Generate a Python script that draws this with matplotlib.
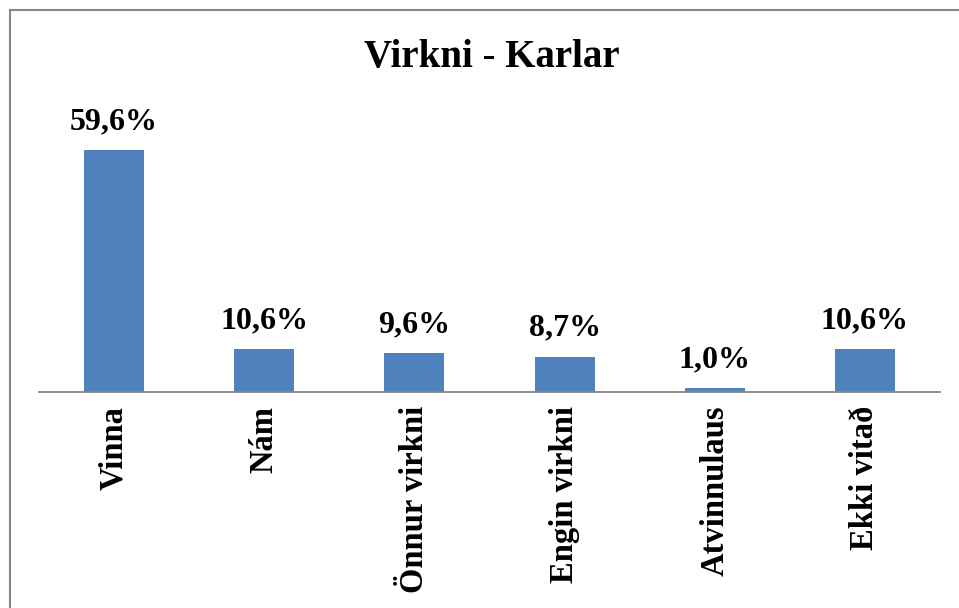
import matplotlib
matplotlib.use("Agg")
import matplotlib.pyplot as plt
from matplotlib.lines import Line2D

categories = ["Vinna", "Nám", "Önnur virkni", "Engin virkni", "Atvinnulaus", "Ekki vitað"]
values = [59.6, 10.6, 9.6, 8.7, 1.0, 10.6]
value_labels = ["59,6%", "10,6%", "9,6%", "8,7%", "1,0%", "10,6%"]
title = "Virkni - Karlar"

W, H = 959, 608
fig = plt.figure(figsize=(W / 100, H / 100), dpi=100)
fig.patch.set_facecolor("white")

ymax = 65
px_per = 4.06
ax_left, ax_right, ax_bottom = 39, 940, 392
ax_top = ax_bottom - px_per * ymax
ax = fig.add_axes([ax_left / W, (H - ax_bottom) / H, (ax_right - ax_left) / W, (ax_bottom - ax_top) / H])
ax.set_facecolor("none")

x = list(range(len(categories)))
bars = ax.bar(x, values, width=0.4, color="#4F81BD", zorder=2)
ax.set_xlim(-0.5, len(categories) - 0.5)
ax.set_ylim(0, ymax)

for s in ["top", "right", "left"]:
    ax.spines[s].set_visible(False)
ax.spines["bottom"].set_color("#868686")
ax.spines["bottom"].set_linewidth(1.3)
ax.set_yticks([])
ax.set_xticks(x)
ax.set_xticklabels(categories, rotation=90, fontfamily="Liberation Serif",
                   fontweight="bold", fontsize=23.5, va="top", ha="center")
ax.tick_params(axis="x", length=0, pad=10)

for xi, v, lab in zip(x, values, value_labels):
    ax.annotate(lab, (xi, v), xytext=(0, 15), textcoords="offset points",
                ha="center", va="baseline", fontfamily="Liberation Serif",
                fontweight="bold", fontsize=23, color="black")

fig.text(492 / W, 1 - 57 / H, title, ha="center", va="center",
         fontfamily="Liberation Serif", fontweight="bold", fontsize=28)

# outer chart border (partially cropped)
fig.add_artist(Line2D([10 / W, 1.0], [1 - 10 / H, 1 - 10 / H], transform=fig.transFigure,
                      color="#868686", lw=1.5))
fig.add_artist(Line2D([10 / W, 10 / W], [0, 1 - 10 / H], transform=fig.transFigure,
                      color="#868686", lw=1.5))

fig.savefig("out.png", dpi=100)
